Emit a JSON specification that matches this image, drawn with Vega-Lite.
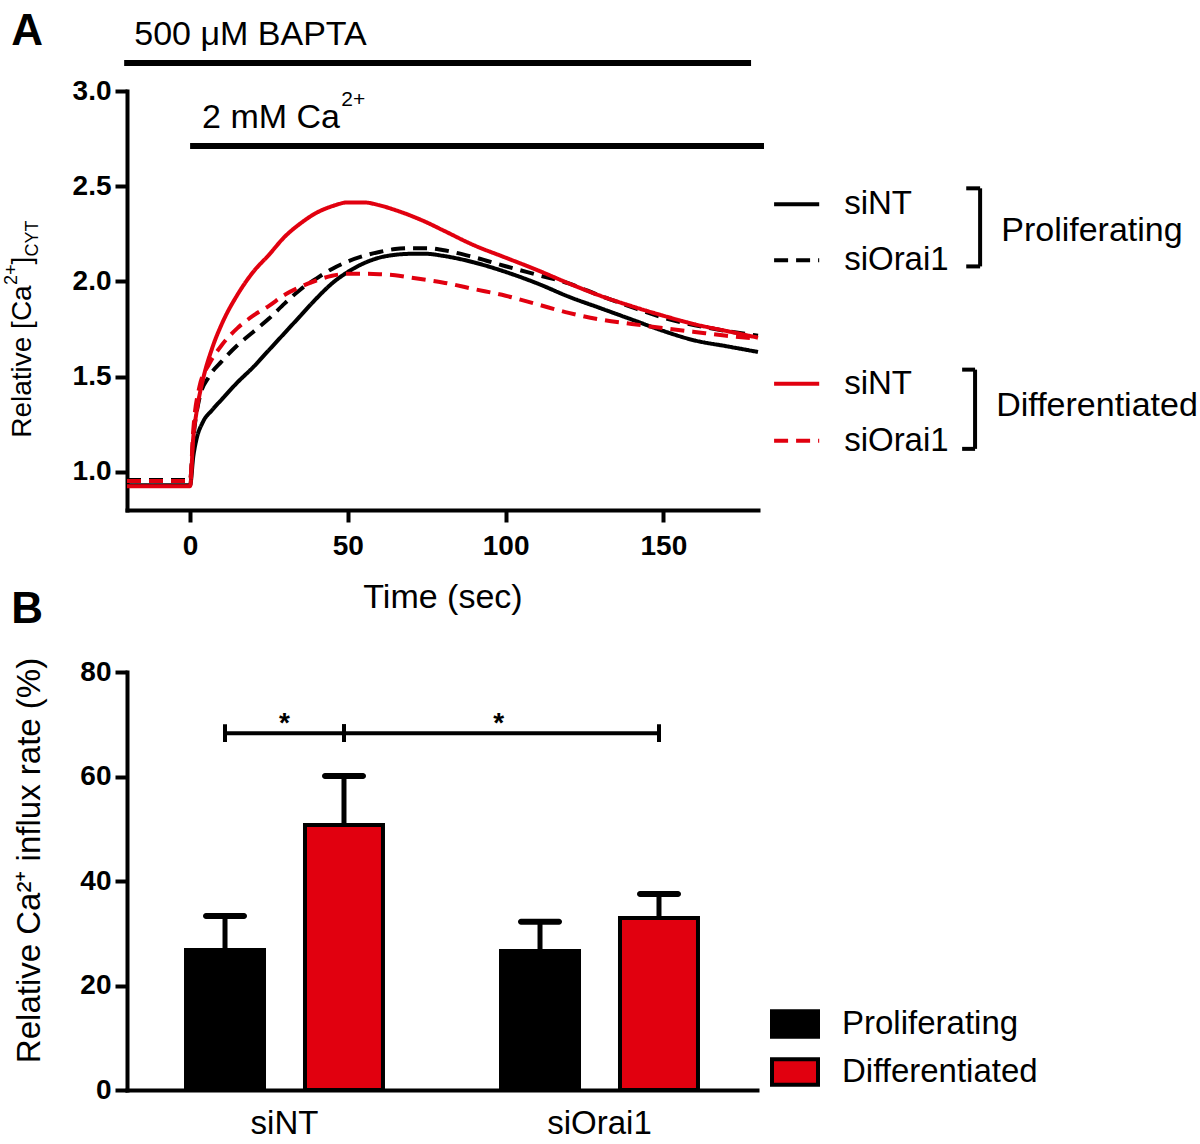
{
  "$schema": "https://vega.github.io/schema/vega-lite/v6.json",
  "background": "white",
  "padding": {"left": 3, "top": 9, "right": 0, "bottom": 0},
  "bounds": "flush",
  "spacing": 162,
  "resolve": {"scale": {"color": "independent"}, "legend": {"color": "independent"}},
  "config": {
    "font": "Liberation Sans",
    "view": {"stroke": null},
    "axis": {"domainColor": "black", "domainWidth": 4, "domainCap": "square", "tickColor": "black", "tickWidth": 4, "tickSize": 12, "labelColor": "black", "labelFont": "Liberation Sans", "labelFontSize": 28, "labelFontWeight": "bold", "grid": false, "titleColor": "black", "titleFont": "Liberation Sans", "titleFontWeight": "normal"},
    "text": {"font": "Liberation Sans", "color": "black"}
  },
  "vconcat": [
    {
      "width": 631,
      "height": 419,
      "layer": [
        {
          "data": {"values": [
            {"t": -20, "v": 0.93, "cond": "Proliferating", "sirna": "siNT"},
            {"t": 0, "v": 0.93, "cond": "Proliferating", "sirna": "siNT"},
            {"t": 1, "v": 1.08, "cond": "Proliferating", "sirna": "siNT"},
            {"t": 2, "v": 1.17, "cond": "Proliferating", "sirna": "siNT"},
            {"t": 4, "v": 1.26, "cond": "Proliferating", "sirna": "siNT"},
            {"t": 7, "v": 1.325, "cond": "Proliferating", "sirna": "siNT"},
            {"t": 10, "v": 1.38, "cond": "Proliferating", "sirna": "siNT"},
            {"t": 15, "v": 1.47, "cond": "Proliferating", "sirna": "siNT"},
            {"t": 20, "v": 1.55, "cond": "Proliferating", "sirna": "siNT"},
            {"t": 25, "v": 1.64, "cond": "Proliferating", "sirna": "siNT"},
            {"t": 30, "v": 1.73, "cond": "Proliferating", "sirna": "siNT"},
            {"t": 35, "v": 1.82, "cond": "Proliferating", "sirna": "siNT"},
            {"t": 40, "v": 1.91, "cond": "Proliferating", "sirna": "siNT"},
            {"t": 45, "v": 1.99, "cond": "Proliferating", "sirna": "siNT"},
            {"t": 50, "v": 2.05, "cond": "Proliferating", "sirna": "siNT"},
            {"t": 55, "v": 2.095, "cond": "Proliferating", "sirna": "siNT"},
            {"t": 60, "v": 2.125, "cond": "Proliferating", "sirna": "siNT"},
            {"t": 65, "v": 2.14, "cond": "Proliferating", "sirna": "siNT"},
            {"t": 70, "v": 2.145, "cond": "Proliferating", "sirna": "siNT"},
            {"t": 75, "v": 2.145, "cond": "Proliferating", "sirna": "siNT"},
            {"t": 80, "v": 2.135, "cond": "Proliferating", "sirna": "siNT"},
            {"t": 90, "v": 2.10, "cond": "Proliferating", "sirna": "siNT"},
            {"t": 100, "v": 2.05, "cond": "Proliferating", "sirna": "siNT"},
            {"t": 110, "v": 1.99, "cond": "Proliferating", "sirna": "siNT"},
            {"t": 120, "v": 1.92, "cond": "Proliferating", "sirna": "siNT"},
            {"t": 130, "v": 1.86, "cond": "Proliferating", "sirna": "siNT"},
            {"t": 140, "v": 1.80, "cond": "Proliferating", "sirna": "siNT"},
            {"t": 150, "v": 1.74, "cond": "Proliferating", "sirna": "siNT"},
            {"t": 160, "v": 1.69, "cond": "Proliferating", "sirna": "siNT"},
            {"t": 170, "v": 1.66, "cond": "Proliferating", "sirna": "siNT"},
            {"t": 180, "v": 1.63, "cond": "Proliferating", "sirna": "siNT"},

            {"t": -20, "v": 0.958, "cond": "Proliferating", "sirna": "siOrai1"},
            {"t": 0, "v": 0.958, "cond": "Proliferating", "sirna": "siOrai1"},
            {"t": 1, "v": 1.17, "cond": "Proliferating", "sirna": "siOrai1"},
            {"t": 3, "v": 1.39, "cond": "Proliferating", "sirna": "siOrai1"},
            {"t": 6, "v": 1.50, "cond": "Proliferating", "sirna": "siOrai1"},
            {"t": 10, "v": 1.58, "cond": "Proliferating", "sirna": "siOrai1"},
            {"t": 15, "v": 1.665, "cond": "Proliferating", "sirna": "siOrai1"},
            {"t": 20, "v": 1.735, "cond": "Proliferating", "sirna": "siOrai1"},
            {"t": 25, "v": 1.805, "cond": "Proliferating", "sirna": "siOrai1"},
            {"t": 30, "v": 1.885, "cond": "Proliferating", "sirna": "siOrai1"},
            {"t": 35, "v": 1.958, "cond": "Proliferating", "sirna": "siOrai1"},
            {"t": 40, "v": 2.015, "cond": "Proliferating", "sirna": "siOrai1"},
            {"t": 45, "v": 2.066, "cond": "Proliferating", "sirna": "siOrai1"},
            {"t": 50, "v": 2.105, "cond": "Proliferating", "sirna": "siOrai1"},
            {"t": 55, "v": 2.134, "cond": "Proliferating", "sirna": "siOrai1"},
            {"t": 60, "v": 2.155, "cond": "Proliferating", "sirna": "siOrai1"},
            {"t": 65, "v": 2.17, "cond": "Proliferating", "sirna": "siOrai1"},
            {"t": 70, "v": 2.175, "cond": "Proliferating", "sirna": "siOrai1"},
            {"t": 75, "v": 2.175, "cond": "Proliferating", "sirna": "siOrai1"},
            {"t": 80, "v": 2.165, "cond": "Proliferating", "sirna": "siOrai1"},
            {"t": 90, "v": 2.127, "cond": "Proliferating", "sirna": "siOrai1"},
            {"t": 100, "v": 2.08, "cond": "Proliferating", "sirna": "siOrai1"},
            {"t": 110, "v": 2.035, "cond": "Proliferating", "sirna": "siOrai1"},
            {"t": 120, "v": 1.99, "cond": "Proliferating", "sirna": "siOrai1"},
            {"t": 130, "v": 1.925, "cond": "Proliferating", "sirna": "siOrai1"},
            {"t": 140, "v": 1.865, "cond": "Proliferating", "sirna": "siOrai1"},
            {"t": 150, "v": 1.81, "cond": "Proliferating", "sirna": "siOrai1"},
            {"t": 160, "v": 1.77, "cond": "Proliferating", "sirna": "siOrai1"},
            {"t": 170, "v": 1.74, "cond": "Proliferating", "sirna": "siOrai1"},
            {"t": 180, "v": 1.715, "cond": "Proliferating", "sirna": "siOrai1"},

            {"t": -20, "v": 0.952, "cond": "Differentiated", "sirna": "siOrai1"},
            {"t": 0, "v": 0.952, "cond": "Differentiated", "sirna": "siOrai1"},
            {"t": 1, "v": 1.22, "cond": "Differentiated", "sirna": "siOrai1"},
            {"t": 3, "v": 1.45, "cond": "Differentiated", "sirna": "siOrai1"},
            {"t": 6, "v": 1.565, "cond": "Differentiated", "sirna": "siOrai1"},
            {"t": 10, "v": 1.665, "cond": "Differentiated", "sirna": "siOrai1"},
            {"t": 15, "v": 1.755, "cond": "Differentiated", "sirna": "siOrai1"},
            {"t": 20, "v": 1.82, "cond": "Differentiated", "sirna": "siOrai1"},
            {"t": 25, "v": 1.872, "cond": "Differentiated", "sirna": "siOrai1"},
            {"t": 30, "v": 1.93, "cond": "Differentiated", "sirna": "siOrai1"},
            {"t": 35, "v": 1.972, "cond": "Differentiated", "sirna": "siOrai1"},
            {"t": 40, "v": 2.005, "cond": "Differentiated", "sirna": "siOrai1"},
            {"t": 45, "v": 2.03, "cond": "Differentiated", "sirna": "siOrai1"},
            {"t": 50, "v": 2.04, "cond": "Differentiated", "sirna": "siOrai1"},
            {"t": 55, "v": 2.04, "cond": "Differentiated", "sirna": "siOrai1"},
            {"t": 60, "v": 2.038, "cond": "Differentiated", "sirna": "siOrai1"},
            {"t": 65, "v": 2.033, "cond": "Differentiated", "sirna": "siOrai1"},
            {"t": 70, "v": 2.02, "cond": "Differentiated", "sirna": "siOrai1"},
            {"t": 75, "v": 2.008, "cond": "Differentiated", "sirna": "siOrai1"},
            {"t": 80, "v": 1.995, "cond": "Differentiated", "sirna": "siOrai1"},
            {"t": 90, "v": 1.96, "cond": "Differentiated", "sirna": "siOrai1"},
            {"t": 100, "v": 1.925, "cond": "Differentiated", "sirna": "siOrai1"},
            {"t": 110, "v": 1.88, "cond": "Differentiated", "sirna": "siOrai1"},
            {"t": 120, "v": 1.835, "cond": "Differentiated", "sirna": "siOrai1"},
            {"t": 130, "v": 1.80, "cond": "Differentiated", "sirna": "siOrai1"},
            {"t": 140, "v": 1.777, "cond": "Differentiated", "sirna": "siOrai1"},
            {"t": 150, "v": 1.755, "cond": "Differentiated", "sirna": "siOrai1"},
            {"t": 160, "v": 1.735, "cond": "Differentiated", "sirna": "siOrai1"},
            {"t": 170, "v": 1.715, "cond": "Differentiated", "sirna": "siOrai1"},
            {"t": 180, "v": 1.70, "cond": "Differentiated", "sirna": "siOrai1"},

            {"t": -20, "v": 0.925, "cond": "Differentiated", "sirna": "siNT"},
            {"t": 0, "v": 0.925, "cond": "Differentiated", "sirna": "siNT"},
            {"t": 1, "v": 1.18, "cond": "Differentiated", "sirna": "siNT"},
            {"t": 2, "v": 1.31, "cond": "Differentiated", "sirna": "siNT"},
            {"t": 4, "v": 1.48, "cond": "Differentiated", "sirna": "siNT"},
            {"t": 7, "v": 1.65, "cond": "Differentiated", "sirna": "siNT"},
            {"t": 10, "v": 1.775, "cond": "Differentiated", "sirna": "siNT"},
            {"t": 15, "v": 1.93, "cond": "Differentiated", "sirna": "siNT"},
            {"t": 20, "v": 2.05, "cond": "Differentiated", "sirna": "siNT"},
            {"t": 25, "v": 2.14, "cond": "Differentiated", "sirna": "siNT"},
            {"t": 30, "v": 2.235, "cond": "Differentiated", "sirna": "siNT"},
            {"t": 35, "v": 2.305, "cond": "Differentiated", "sirna": "siNT"},
            {"t": 40, "v": 2.36, "cond": "Differentiated", "sirna": "siNT"},
            {"t": 45, "v": 2.395, "cond": "Differentiated", "sirna": "siNT"},
            {"t": 50, "v": 2.415, "cond": "Differentiated", "sirna": "siNT"},
            {"t": 55, "v": 2.415, "cond": "Differentiated", "sirna": "siNT"},
            {"t": 60, "v": 2.40, "cond": "Differentiated", "sirna": "siNT"},
            {"t": 65, "v": 2.375, "cond": "Differentiated", "sirna": "siNT"},
            {"t": 70, "v": 2.345, "cond": "Differentiated", "sirna": "siNT"},
            {"t": 75, "v": 2.31, "cond": "Differentiated", "sirna": "siNT"},
            {"t": 80, "v": 2.27, "cond": "Differentiated", "sirna": "siNT"},
            {"t": 90, "v": 2.19, "cond": "Differentiated", "sirna": "siNT"},
            {"t": 100, "v": 2.125, "cond": "Differentiated", "sirna": "siNT"},
            {"t": 110, "v": 2.06, "cond": "Differentiated", "sirna": "siNT"},
            {"t": 120, "v": 1.99, "cond": "Differentiated", "sirna": "siNT"},
            {"t": 130, "v": 1.925, "cond": "Differentiated", "sirna": "siNT"},
            {"t": 140, "v": 1.87, "cond": "Differentiated", "sirna": "siNT"},
            {"t": 150, "v": 1.82, "cond": "Differentiated", "sirna": "siNT"},
            {"t": 160, "v": 1.775, "cond": "Differentiated", "sirna": "siNT"},
            {"t": 170, "v": 1.74, "cond": "Differentiated", "sirna": "siNT"},
            {"t": 180, "v": 1.705, "cond": "Differentiated", "sirna": "siNT"}
          ]},
          "mark": {"type": "line", "strokeWidth": 4, "interpolate": "monotone", "strokeCap": "butt"},
          "encoding": {
            "x": {"field": "t", "type": "quantitative", "scale": {"domain": [-20, 180], "nice": false, "zero": false},
                  "axis": {"values": [0, 50, 100, 150], "title": "Time (sec)", "titleFontSize": 34, "labelPadding": 10, "titlePadding": 20}},
            "y": {"field": "v", "type": "quantitative", "scale": {"domain": [0.8, 3.0], "nice": false, "zero": false},
                  "axis": {"values": [1, 1.5, 2, 2.5, 3], "format": ".1f", "title": null, "labelPadding": 4}},
            "color": {"field": "cond", "type": "nominal", "scale": {"domain": ["Proliferating", "Differentiated"], "range": ["#000000", "#e1000f"]}, "legend": null},
            "strokeDash": {"field": "sirna", "type": "nominal", "scale": {"domain": ["siNT", "siOrai1"], "range": [[1, 0], [14, 8]]}, "legend": null}
          }
        },
        {"data": {"values": [{}]}, "mark": {"type": "rule", "strokeWidth": 6, "color": "black"},
         "encoding": {"x": {"datum": -20.9}, "x2": {"datum": 177.8}, "y": {"datum": 3.147}}},
        {"data": {"values": [{}]}, "mark": {"type": "rule", "strokeWidth": 6, "color": "black"},
         "encoding": {"x": {"datum": 0}, "x2": {"datum": 181.9}, "y": {"datum": 2.711}}},
        {"data": {"values": [{}]}, "mark": {"type": "text", "text": "A", "fontSize": 44, "fontWeight": "bold", "align": "left", "baseline": "alphabetic"},
         "encoding": {"x": {"datum": -56.7}, "y": {"datum": 3.242}}},
        {"data": {"values": [{}]}, "mark": {"type": "text", "text": "B", "fontSize": 44, "fontWeight": "bold", "align": "left", "baseline": "alphabetic"},
         "encoding": {"x": {"datum": -56.7}, "y": {"datum": 0.205}}},
        {"data": {"values": [{}]}, "mark": {"type": "text", "text": "500 μM BAPTA", "fontSize": 34, "align": "left", "baseline": "alphabetic"},
         "encoding": {"x": {"datum": -17.7}, "y": {"datum": 3.242}}},
        {"data": {"values": [{}]}, "mark": {"type": "text", "text": "2 mM Ca", "fontSize": 34, "align": "left", "baseline": "alphabetic"},
         "encoding": {"x": {"datum": 3.8}, "y": {"datum": 2.805}}},
        {"data": {"values": [{}]}, "mark": {"type": "text", "text": "2+", "fontSize": 21, "align": "left", "baseline": "alphabetic"},
         "encoding": {"x": {"datum": 47.9}, "y": {"datum": 2.921}}},
        {"data": {"values": [{}]}, "mark": {"type": "text", "text": "Relative [Ca", "fontSize": 28, "angle": 270, "align": "left", "baseline": "middle"},
         "encoding": {"x": {"datum": -52.9}, "y": {"datum": 1.179}}},
        {"data": {"values": [{}]}, "mark": {"type": "text", "text": "2+", "fontSize": 18, "angle": 270, "align": "left", "baseline": "middle"},
         "encoding": {"x": {"datum": -56.4}, "y": {"datum": 1.982}}},
        {"data": {"values": [{}]}, "mark": {"type": "text", "text": "]", "fontSize": 28, "angle": 270, "align": "left", "baseline": "middle"},
         "encoding": {"x": {"datum": -52.9}, "y": {"datum": 2.089}}},
        {"data": {"values": [{}]}, "mark": {"type": "text", "text": "CYT", "fontSize": 18, "angle": 270, "align": "left", "baseline": "middle"},
         "encoding": {"x": {"datum": -49.9}, "y": {"datum": 2.131}}},
        {"data": {"values": [{}]}, "mark": {"type": "rule", "strokeWidth": 4, "color": "black"},
         "encoding": {"x": {"datum": 185.1}, "x2": {"datum": 199.4}, "y": {"datum": 2.405}}},
        {"data": {"values": [{}]}, "mark": {"type": "rule", "strokeWidth": 4, "color": "black", "strokeDash": [14, 8]},
         "encoding": {"x": {"datum": 185.1}, "x2": {"datum": 199.4}, "y": {"datum": 2.111}}},
        {"data": {"values": [{}]}, "mark": {"type": "rule", "strokeWidth": 4, "color": "#e1000f"},
         "encoding": {"x": {"datum": 185.1}, "x2": {"datum": 199.4}, "y": {"datum": 1.463}}},
        {"data": {"values": [{}]}, "mark": {"type": "rule", "strokeWidth": 4, "color": "#e1000f", "strokeDash": [14, 8]},
         "encoding": {"x": {"datum": 185.1}, "x2": {"datum": 199.4}, "y": {"datum": 1.163}}},
        {"data": {"values": [{}]}, "mark": {"type": "text", "text": "siNT", "fontSize": 33, "align": "left", "baseline": "middle"},
         "encoding": {"x": {"datum": 207.3}, "y": {"datum": 2.405}}},
        {"data": {"values": [{}]}, "mark": {"type": "text", "text": "siOrai1", "fontSize": 33, "align": "left", "baseline": "middle"},
         "encoding": {"x": {"datum": 207.3}, "y": {"datum": 2.111}}},
        {"data": {"values": [{}]}, "mark": {"type": "text", "text": "siNT", "fontSize": 33, "align": "left", "baseline": "middle"},
         "encoding": {"x": {"datum": 207.3}, "y": {"datum": 1.463}}},
        {"data": {"values": [{}]}, "mark": {"type": "text", "text": "siOrai1", "fontSize": 33, "align": "left", "baseline": "middle"},
         "encoding": {"x": {"datum": 207.3}, "y": {"datum": 1.163}}},
        {"data": {"values": [{}]}, "mark": {"type": "rule", "strokeWidth": 4, "color": "black"},
         "encoding": {"x": {"datum": 250.4}, "y": {"datum": 2.489}, "y2": {"datum": 2.079}}},
        {"data": {"values": [{}]}, "mark": {"type": "rule", "strokeWidth": 4, "color": "black"},
         "encoding": {"x": {"datum": 246.0}, "x2": {"datum": 250.4}, "y": {"datum": 2.489}}},
        {"data": {"values": [{}]}, "mark": {"type": "rule", "strokeWidth": 4, "color": "black"},
         "encoding": {"x": {"datum": 246.0}, "x2": {"datum": 250.4}, "y": {"datum": 2.079}}},
        {"data": {"values": [{}]}, "mark": {"type": "rule", "strokeWidth": 4, "color": "black"},
         "encoding": {"x": {"datum": 248.8}, "y": {"datum": 1.537}, "y2": {"datum": 1.121}}},
        {"data": {"values": [{}]}, "mark": {"type": "rule", "strokeWidth": 4, "color": "black"},
         "encoding": {"x": {"datum": 244.7}, "x2": {"datum": 248.8}, "y": {"datum": 1.537}}},
        {"data": {"values": [{}]}, "mark": {"type": "rule", "strokeWidth": 4, "color": "black"},
         "encoding": {"x": {"datum": 244.7}, "x2": {"datum": 248.8}, "y": {"datum": 1.121}}},
        {"data": {"values": [{}]}, "mark": {"type": "text", "text": "Proliferating", "fontSize": 34, "align": "left", "baseline": "middle"},
         "encoding": {"x": {"datum": 257.1}, "y": {"datum": 2.263}}},
        {"data": {"values": [{}]}, "mark": {"type": "text", "text": "Differentiated", "fontSize": 34, "align": "left", "baseline": "middle"},
         "encoding": {"x": {"datum": 255.5}, "y": {"datum": 1.347}}}
      ]
    },
    {
      "width": 630,
      "height": 418,
      "layer": [
        {
          "data": {"values": [
            {"group": "siNT", "cond": "Proliferating", "mean": 26.8, "upper": 33.3},
            {"group": "siNT", "cond": "Differentiated", "mean": 50.7, "upper": 60.1},
            {"group": "siOrai1", "cond": "Proliferating", "mean": 26.6, "upper": 32.2},
            {"group": "siOrai1", "cond": "Differentiated", "mean": 32.9, "upper": 37.5}
          ]},
          "encoding": {
            "x": {"field": "group", "type": "nominal", "scale": {"domain": ["siNT", "siOrai1"], "paddingInner": 0, "paddingOuter": 0},
                  "axis": {"title": null, "labelFontSize": 33, "labelFontWeight": "normal", "labelAngle": 0, "ticks": false, "tickSize": 0, "labelPadding": 17}},
            "xOffset": {"field": "cond", "type": "nominal", "scale": {"domain": ["Proliferating", "Differentiated"], "paddingInner": 0.3445, "paddingOuter": 0.496}}
          },
          "layer": [
            {"mark": {"type": "rule", "strokeWidth": 5, "color": "black"},
             "encoding": {
               "y": {"field": "mean", "type": "quantitative", "scale": {"domain": [0, 80], "nice": false},
                     "axis": {"values": [0, 20, 40, 60, 80], "title": "Relative Ca²⁺ influx rate (%)", "titleFontSize": 33, "titlePadding": 33, "titleY": 188, "labelPadding": 4}},
               "y2": {"field": "upper"}}},
            {"mark": {"type": "tick", "thickness": 6, "size": 44, "color": "black", "opacity": 1, "cornerRadius": 3},
             "encoding": {"y": {"field": "upper", "type": "quantitative"}}},
            {"mark": {"type": "bar", "stroke": "black", "strokeWidth": 4, "opacity": 1},
             "encoding": {
               "y": {"field": "mean", "type": "quantitative"},
               "color": {"field": "cond", "type": "nominal", "scale": {"domain": ["Proliferating", "Differentiated"], "range": ["#000000", "#e1000f"]},
                         "legend": {"orient": "none", "legendX": 643, "legendY": 327, "title": null, "padding": 0,
                                    "symbolType": "M-1,-0.55H1V0.55H-1Z", "symbolSize": 2116, "symbolStrokeColor": "black", "symbolStrokeWidth": 4, "symbolOpacity": 1,
                                    "labelFontSize": 33, "labelFont": "Liberation Sans", "labelColor": "black", "labelOffset": 22, "labelLimit": 0, "rowPadding": 2}}}}
          ]
        },
        {
          "data": {"values": [
            {"bracket": "a", "group": "siNT", "cond": "Proliferating"},
            {"bracket": "a", "group": "siNT", "cond": "Differentiated"},
            {"bracket": "b", "group": "siNT", "cond": "Differentiated"},
            {"bracket": "b", "group": "siOrai1", "cond": "Differentiated"}
          ]},
          "encoding": {
            "x": {"field": "group", "type": "nominal"},
            "xOffset": {"field": "cond", "type": "nominal"}
          },
          "layer": [
            {"mark": {"type": "line", "strokeWidth": 4, "color": "black"},
             "encoding": {"y": {"datum": 68.3}, "detail": {"field": "bracket"}}},
            {"mark": {"type": "rule", "strokeWidth": 4, "color": "black"},
             "encoding": {"y": {"datum": 66.6}, "y2": {"datum": 70.0}}}
          ]
        },
        {"data": {"values": [{}]}, "mark": {"type": "text", "text": "*", "fontSize": 28, "fontWeight": "bold", "baseline": "alphabetic", "align": "center"},
         "encoding": {"x": {"datum": "siNT"}, "y": {"datum": 68.6}}},
        {"data": {"values": [{}]}, "mark": {"type": "text", "text": "*", "fontSize": 28, "fontWeight": "bold", "baseline": "alphabetic", "align": "center"},
         "encoding": {"x": {"datum": "siOrai1", "bandPosition": 0.18}, "y": {"datum": 68.6}}}
      ]
    }
  ]
}
